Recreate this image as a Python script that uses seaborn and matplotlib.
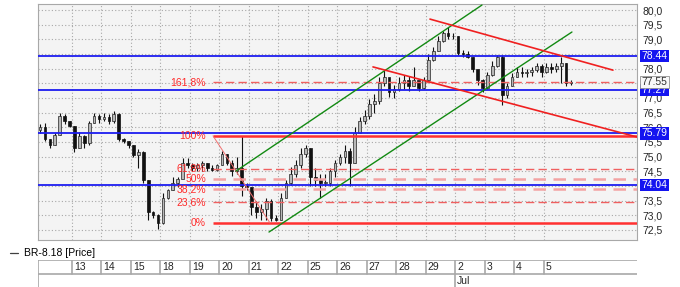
import numpy as np
import pandas as pd
import matplotlib
matplotlib.use("Agg")
import matplotlib.pyplot as plt
import matplotlib.transforms as mtransforms
import seaborn as sns

# ---------------- data ----------------
day_labels = ["13", "14", "15", "18", "19", "20", "21", "22", "25", "26",
              "27", "28", "29", "2", "3", "4", "5"]
month_label = "Jul"
month_day_index = 14          # "2" starts the July section
bars_per_day = 6
first_bar = -1
series_name = "BR-8.18 [Price]"

first_open = 75.9
highs = [76.1, 76.15, 75.6, 75.8, 76.5, 76.45, 76.2,
         76.05, 75.85, 75.75, 76.2, 76.5, 76.45,
         76.5, 76.45, 76.55, 76.5, 75.65, 75.55,
         75.4, 75.25, 75.2, 74.2, 73.15, 73.05,
         73.75, 73.9, 74.3, 74.3, 74.95, 74.95,
         74.8, 74.8, 74.85, 74.8, 74.7, 74.75,
         75.2, 75.1, 74.9, 75.0, 75.7, 74.1,
         73.95, 73.5, 73.4, 73.6, 73.55, 73.0,
         73.75, 74.2, 74.65, 74.9, 75.3, 75.4,
         75.3, 74.6, 74.4, 74.4, 74.6, 74.9,
         75.1, 75.4, 75.3, 76.0, 76.35, 76.6,
         76.95, 77.15, 77.7, 77.95, 77.65, 77.45,
         77.7, 77.8, 77.75, 78.05, 77.55, 77.7,
         78.5, 78.75, 79.1, 79.3, 79.42, 79.2,
         79.1, 78.65, 78.6, 78.4, 77.95, 77.65,
         77.9, 78.25, 78.47, 78.45, 77.5, 77.85,
         78.05, 78.05, 78.0, 78.05, 78.2, 78.15,
         78.2, 78.2, 78.2, 78.4, 78.2, 77.6]
lows = [75.8, 75.55, 75.3, 75.4, 75.75, 76.1, 76.0,
        75.15, 75.3, 75.3, 75.4, 76.15, 76.15,
        76.2, 76.1, 76.15, 75.55, 75.45, 75.3,
        75.0, 74.6, 74.1, 72.85, 72.9, 72.55,
        72.7, 73.55, 73.85, 73.95, 74.3, 74.6,
        74.5, 74.5, 74.5, 74.5, 74.5, 74.5,
        74.7, 74.7, 74.35, 74.4, 73.65, 73.85,
        73.0, 72.9, 72.85, 72.85, 72.8, 72.8,
        72.85, 73.6, 74.05, 74.3, 74.6, 75.0,
        74.0, 74.0, 73.6, 74.0, 74.0, 74.3,
        74.7, 74.8, 74.0, 74.8, 75.8, 76.1,
        76.3, 76.5, 76.8, 77.4, 77.05, 77.0,
        77.25, 77.3, 77.25, 77.4, 77.25, 77.3,
        77.6, 78.25, 78.6, 78.9, 79.0, 79.0,
        78.45, 78.4, 78.35, 77.9, 77.45, 77.2,
        77.3, 77.75, 78.05, 76.75, 77.0, 77.4,
        77.7, 77.7, 77.7, 77.75, 77.9, 77.7,
        77.85, 77.85, 77.9, 77.5, 77.4, 77.45]
closes = [76.0, 75.6, 75.4, 75.75, 76.4, 76.2, 76.05,
          75.3, 75.7, 75.45, 76.15, 76.4, 76.3,
          76.35, 76.2, 76.45, 75.6, 75.55, 75.4,
          75.05, 75.15, 74.2, 73.1, 73.0, 72.75,
          73.6, 73.85, 74.1, 74.25, 74.8, 74.7,
          74.6, 74.7, 74.8, 74.6, 74.55, 74.7,
          75.1, 74.8, 74.5, 74.6, 74.0, 73.95,
          73.3, 73.1, 73.2, 73.5, 72.9, 72.85,
          73.6, 74.1, 74.4, 74.7, 75.1, 75.3,
          74.3, 74.2, 74.1, 74.1, 74.5, 74.8,
          75.0, 75.2, 74.8, 75.8, 76.2, 76.4,
          76.8, 76.9, 77.5, 77.7, 77.2, 77.3,
          77.5, 77.6, 77.4, 77.6, 77.35, 77.6,
          78.3, 78.6, 78.95, 79.2, 79.1, 79.1,
          78.55, 78.5, 78.4, 78.0, 77.6, 77.35,
          77.8, 78.1, 78.4, 77.1, 77.4, 77.7,
          77.9, 77.85, 77.9, 77.95, 78.1, 77.9,
          78.05, 78.0, 78.1, 78.2, 77.5, 77.55]

blue_levels = [78.44, 77.27, 75.79, 74.04]
blue_labels = ["78.44", "77.27", "75.79", "74.04"]
last_price = 77.55
last_label = "77.55"
# scale values whose labels are hidden behind the value boxes in the reference
hidden_ticks = [78.5, 77.5, 74.0]

fib_high = 75.71
fib_low = 72.75
fib_ratios = [1.618, 1.0, 0.618, 0.5, 0.382, 0.236, 0.0]
fib_labels = ["161,8%", "100%", "61,8%", "50%", "38,2%", "23,6%", "0%"]
fib_start = 34.18
fib_anchor_x = [34.18, 45.77]
fib_anchor_y = [75.71, 72.74]

green_x = [[38.86, 88.89], [45.57, 107.19]]
green_y = [[74.51, 80.17], [72.43, 79.25]]
red_x = [[78.31, 115.53], [66.72, 120.42]]
red_y = [[79.69, 77.95], [78.06, 75.67]]

# ---------------- style ----------------
sns.set_style("white")
plt.rcParams["font.family"] = ["Liberation Sans", "DejaVu Sans"]
FS = 7.5

W, H = 680, 287
fig = plt.figure(figsize=(W / 100, H / 100), dpi=100, facecolor="white")
ax = fig.add_axes([38 / W, (H - 240) / H, 599 / W, 236 / H])
ax.set_facecolor("#f4f4f4")

XMIN, XMAX = -1.415, 120.42
YMIN, YMAX = 72.158, 80.205
ax.set_xlim(XMIN, XMAX)
ax.set_ylim(YMIN, YMAX)

# grid
for v in np.arange(72.5, 80.01, 0.5):
    ax.axhline(v, color="#a8a8a8", lw=0.8, ls=(0, (1, 2)), zorder=1)
n_days = len(day_labels) + 1
for d in range(1, n_days):
    ax.axvline(d * bars_per_day - 0.5, color="#a8a8a8", lw=0.8, ls=(0, (1, 2)), zorder=1)

# candles
x = np.arange(first_bar, first_bar + len(closes))
opens = [first_open] + closes[:-1]
df = pd.DataFrame({"x": x, "open": opens, "high": highs, "low": lows, "close": closes})
ax.vlines(df["x"], df["low"], df["high"], color="#111111", lw=0.8, zorder=2)
up = df[df["close"] >= df["open"]]
dn = df[df["close"] < df["open"]]
ax.bar(up["x"], (up["close"] - up["open"]).clip(lower=0.02), bottom=up["open"], width=0.55,
       color="#b8b8b8", edgecolor="#222222", linewidth=0.5, zorder=2)
ax.bar(dn["x"], (dn["open"] - dn["close"]).clip(lower=0.02), bottom=dn["close"], width=0.55,
       color="#111111", edgecolor="#111111", linewidth=0.5, zorder=2)

# blue horizontal levels
for lv in blue_levels:
    ax.axhline(lv, color="#1c1cf0", lw=1.3, zorder=3)

# fibonacci levels
rng = fib_high - fib_low
for r, lab in zip(fib_ratios, fib_labels):
    lv = fib_low + r * rng
    if r in (1.0, 0.0):
        ax.plot([fib_start, XMAX], [lv, lv], color="#ff3030", lw=1.8, zorder=3,
                solid_capstyle="butt")
    elif r in (0.5, 0.382):
        ax.plot([fib_start, XMAX], [lv, lv], color="#f3a3a3", lw=1.8, zorder=3,
                ls=(0, (5, 3)))
    else:
        ax.plot([fib_start, XMAX], [lv, lv], color="#f06060", lw=1.0, zorder=3,
                ls=(0, (6, 3)))
    ax.text(32.75, lv, lab, color="#ff2a2a", fontsize=FS, ha="right", va="center", zorder=6)
ax.plot(fib_anchor_x, fib_anchor_y, color="#f07070", lw=0.7, zorder=3)

# trend lines via seaborn
for xs, ys in zip(green_x, green_y):
    sns.lineplot(x=xs, y=ys, color="#128a12", lw=1.0, ax=ax, zorder=4,
                 estimator=None, sort=False, legend=False)
for xs, ys in zip(red_x, red_y):
    sns.lineplot(x=xs, y=ys, color="#f02020", lw=1.2, ax=ax, zorder=4,
                 estimator=None, sort=False, legend=False)

# axes cosmetics
ax.set_xlabel("")
ax.set_ylabel("")
ax.set_xticks([])
ax.yaxis.tick_right()
tick_vals = [round(v, 1) for v in np.arange(72.5, 80.01, 0.5)
             if not any(abs(v - h) < 1e-6 for h in hidden_ticks)]
ax.set_yticks(tick_vals)
ax.set_yticklabels([f"{v:.1f}".replace(".", ",") for v in tick_vals], fontsize=FS)
ax.tick_params(axis="y", length=0, pad=4)
for s in ax.spines.values():
    s.set_color("#a8a8a8")
    s.set_linewidth(0.8)

# value boxes on the right
trans = mtransforms.blended_transform_factory(ax.transAxes, ax.transData)
for lv, lab in zip(blue_levels, blue_labels):
    ax.text(1.0075, lv, lab, transform=trans, fontsize=FS, color="white",
            ha="left", va="center", zorder=10, clip_on=False,
            bbox=dict(boxstyle="square,pad=0.12", fc="#1414f0", ec="none"))
ax.text(1.0075, last_price, last_label, transform=trans, fontsize=FS, color="#333333",
        ha="left", va="center", zorder=10, clip_on=False,
        bbox=dict(boxstyle="square,pad=0.12", fc="#f8f8f8", ec="#909090", lw=0.6))

# legend line
fig.add_artist(plt.Line2D([10 / W, 18 / W], [1 - 253 / H, 1 - 253 / H], color="#404040", lw=0.9))
fig.text(24 / W, 1 - 253 / H, series_name, fontsize=FS, va="center", ha="left", color="black")

# date strip
ax2 = fig.add_axes([38 / W, 0, 599 / W, 27 / H])
ax2.set_xlim(XMIN, XMAX)
ax2.set_ylim(0, 27)
ax2.axis("off")
ax2.plot([XMIN, XMAX], [26.6, 26.6], color="#a8a8a8", lw=1.2)
ax2.plot([XMIN, XMAX], [13.5, 13.5], color="#a8a8a8", lw=1.2)
ax2.plot([XMIN + 0.1, XMIN + 0.1], [0, 27], color="#a8a8a8", lw=1.2)
for i, lab in enumerate(day_labels):
    d = i + 1
    xb = d * bars_per_day - 0.5
    y0 = 0 if d == month_day_index else 13.5
    ax2.plot([xb, xb], [y0, 27], color="#a8a8a8", lw=1.2)
    ax2.text(xb + 0.35, 19.5, lab, fontsize=FS, va="center", ha="left")
    if d == month_day_index:
        ax2.text(xb + 0.35, 6, month_label, fontsize=FS, va="center", ha="left")

fig.savefig("out.png", dpi=100, facecolor="white")
